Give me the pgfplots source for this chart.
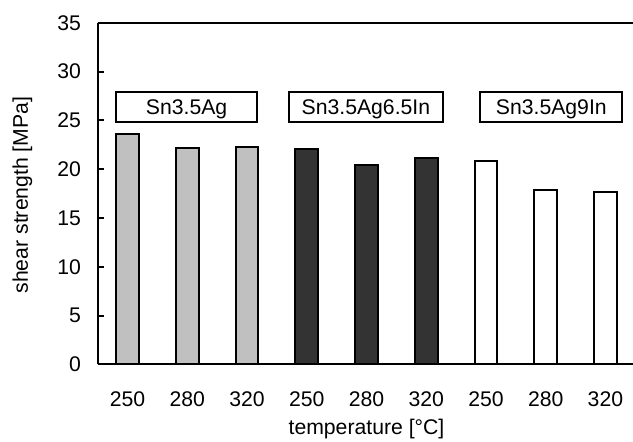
\documentclass[border=0pt]{standalone}
\usepackage{fontspec}
\setmainfont{Liberation Sans}
\usepackage{pgfplots}
\pgfplotsset{compat=1.18}
\definecolor{lgray}{HTML}{C0C0C0}
\definecolor{dgray}{HTML}{333333}
\begin{document}
\begin{tikzpicture}[font=\fontsize{10.6}{12.7}\selectfont]
\begin{axis}[
  at={(0,0)}, anchor=south west,
  scale only axis,
  width=268.8pt, height=170.8pt,
  xmin=-0.5, xmax=8.5,
  ymin=0, ymax=35,
  axis x line=box,
  axis y line=left,
  axis line style={-, line width=1pt, black},
  ytick={0,5,...,35},
  xtick={0,...,8},
  xticklabels={250,280,320,250,280,320,250,280,320},
  tick align=inside,
  major tick length=3pt,
  ytick style={line width=1pt, black},
  xtick style={draw=none},
  /pgf/number format/assume math mode=true,
  tick label style={font=\fontsize{10.6}{12.7}\selectfont},
  xticklabel style={anchor=north, yshift=-7.2pt},
  yticklabel style={anchor=east, xshift=-4.8pt},
  xlabel={temperature [°C]},
  ylabel={shear strength [MPa]},
  xlabel style={at={(axis description cs:0.5,-0.1909)}, anchor=center, font=\fontsize{10.6}{12.7}\selectfont},
  ylabel style={at={(axis description cs:-0.1399,0.4956)}, anchor=center, rotate=0, font=\fontsize{10.6}{12.7}\selectfont},
  ybar, bar width=11.3pt,
  clip=false,
]
\addplot[bar shift=0pt, fill=lgray, draw=black, line width=1pt] coordinates {(0,23.6) (1,22.2) (2,22.3)};
\addplot[bar shift=0pt, fill=dgray, draw=black, line width=1pt] coordinates {(3,22.1) (4,20.4) (5,21.1)};
\addplot[bar shift=0pt, fill=white, draw=black, line width=1pt] coordinates {(6,20.8) (7,17.9) (8,17.7)};
\draw[line width=1pt, fill=white] (axis cs:-0.189,24.86) rectangle (axis cs:2.165,27.93);
\draw[line width=1pt, fill=white] (axis cs:2.70,24.86) rectangle (axis cs:5.279,27.93);
\draw[line width=1pt, fill=white] (axis cs:5.905,24.86) rectangle (axis cs:8.282,27.93);
\node[anchor=base, inner sep=0pt] at (axis cs:0.988,25.61) {Sn3.5Ag};
\node[anchor=base, inner sep=0pt] at (axis cs:3.99,25.61) {Sn3.5Ag6.5In};
\node[anchor=base, inner sep=0pt] at (axis cs:7.094,25.61) {Sn3.5Ag9In};
\end{axis}
\pgfresetboundingbox
\useasboundingbox (-48.85pt,-38.35pt) rectangle (267.65pt,182.15pt);
\end{tikzpicture}
\end{document}
